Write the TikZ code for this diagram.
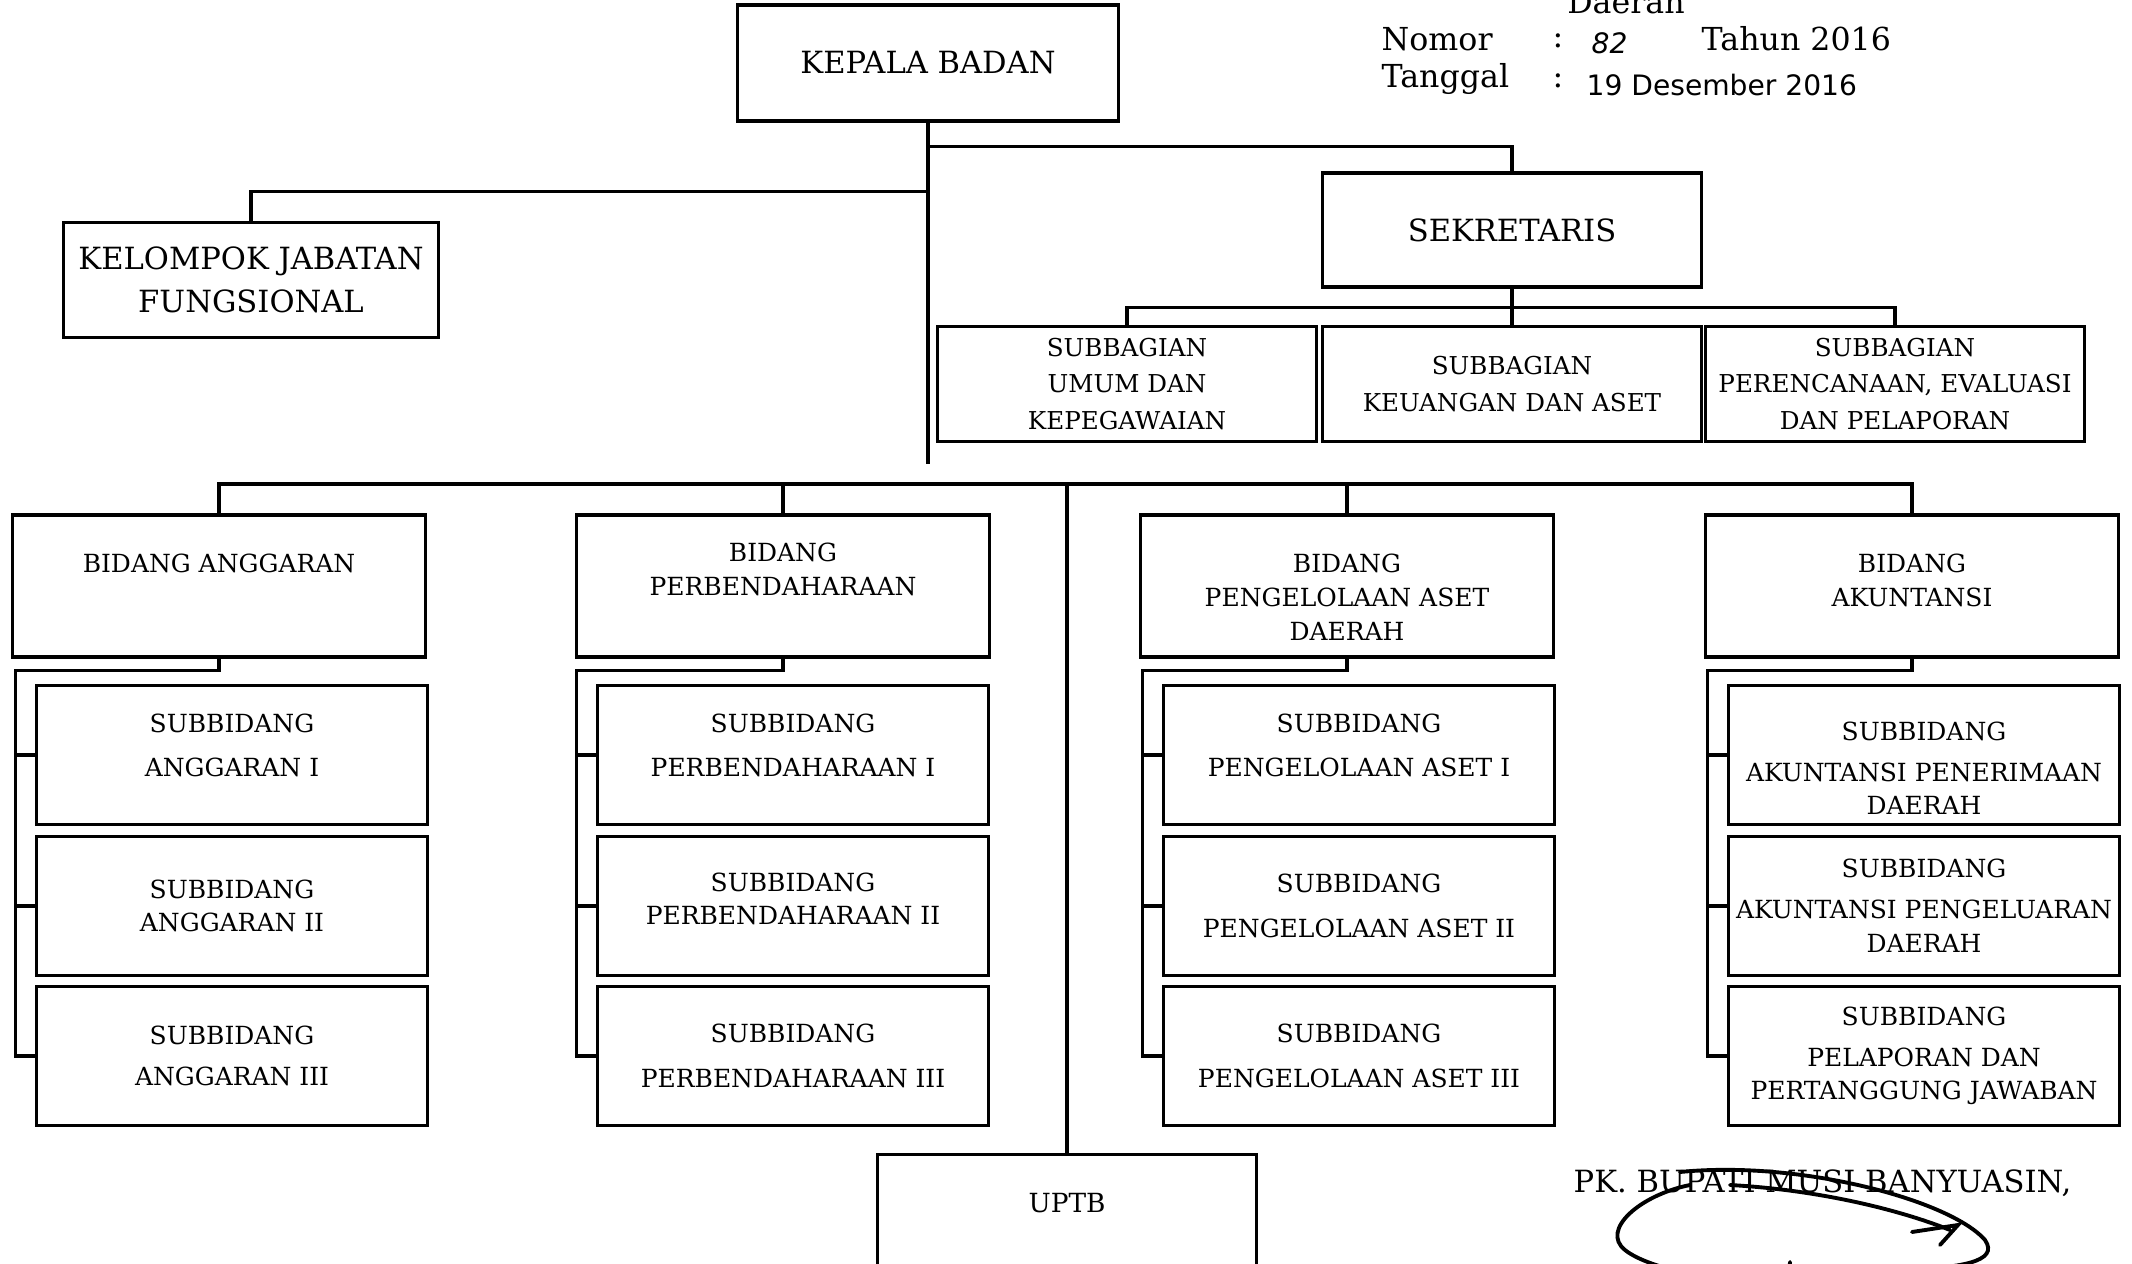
\documentclass[tikz,border=0pt]{standalone}
\usepackage{fontspec}
\setmainfont{DejaVu Serif}
\newfontfamily\handfont{DejaVu Sans}
\usetikzlibrary{positioning}
\newcommand{\bigtxt}{\fontsize{8.7}{12.3}\selectfont}
\newcommand{\smalltxt}{\fontsize{7.1}{9.6}\selectfont}
\newcommand{\bagtxt}{\fontsize{7}{10.4}\selectfont}
\tikzstyle{block} = [rectangle, draw, line width=0.9pt, align=center, inner sep=1pt, font=\bigtxt]
\tikzstyle{bagblock} = [block, font=\bagtxt, minimum width=3.78cm, minimum height=1.15cm]
\tikzstyle{bidblock} = [block, minimum width=4.13cm, minimum height=1.42cm]
\tikzstyle{subblock} = [block, font=\smalltxt, minimum width=3.9cm, minimum height=1.39cm]
\tikzstyle{bidtext} = [font=\smalltxt, align=center, inner sep=0pt]
\tikzstyle{caption} = [font=\fontsize{9}{11}\selectfont, inner sep=0pt]
\tikzstyle{hand} = [font=\handfont\fontsize{8}{10}\selectfont, inner sep=0pt]
\tikzstyle{line} = [draw, line width=0.9pt]
\tikzstyle{sign} = [draw, line width=1.1pt, line cap=round]

\begin{document}
\begin{tikzpicture}[x=0.01cm, y=-0.01cm]
\useasboundingbox (0,0) rectangle (2132,1264);
\clip (0,0) rectangle (2132,1264);

% header
\node [caption] at (1626,2) (daerah) {Daerah};
\node [caption, anchor=west] at (1381,39) (nomor) {Nomor};
\node [caption] at (1558,41) (colona) {:};
\node [hand, anchor=west] at (1591,43) (nomorval) {\itshape 82};
\node [caption, anchor=west] at (1701,39) (tahun) {Tahun 2016};
\node [caption, anchor=west] at (1381,79) (tanggal) {Tanggal};
\node [caption] at (1558,81) (colonb) {:};
\node [hand, anchor=west] at (1586,85) (tglval) {19 Desember 2016};

% top level
\node [block, minimum width=3.8cm, minimum height=1.16cm] at (928,63) (kepala) {KEPALA BADAN};
\node [block, minimum width=3.75cm, minimum height=1.15cm] at (251,280) (kjf) {KELOMPOK JABATAN\\FUNGSIONAL};
\node [block, minimum width=3.78cm, minimum height=1.14cm] at (1512,230) (sek) {SEKRETARIS};

\coordinate (sekjoint) at ([yshift=-0.24cm]kepala.south);
\coordinate (kjfjoint) at ([yshift=-0.69cm]kepala.south);
\coordinate (kepalaend) at ([yshift=-3.41cm]kepala.south);
\path [line] (kepala.south) -- (kepalaend);
\path [line] (sekjoint) -| (sek.north);
\path [line] (kjfjoint) -| (kjf.north);

% sekretariat
\node [bagblock] at (1127,384) (umum) {SUBBAGIAN\\UMUM DAN\\KEPEGAWAIAN};
\node [bagblock] at (1512,384) (keu) {SUBBAGIAN\\KEUANGAN DAN ASET};
\node [bagblock] at (1895,384) (lapor) {SUBBAGIAN\\PERENCANAAN, EVALUASI\\DAN PELAPORAN};
\coordinate (bagjoint) at ([yshift=-0.19cm]sek.south);
\path [line] (sek.south) -- (keu.north);
\path [line] (umum.north) |- (bagjoint) -| (lapor.north);

% bidang
\node [bidblock] at (219,586) (ang) {};
\node [bidblock] at (783,586) (perb) {};
\node [bidblock] at (1347,586) (aset) {};
\node [bidblock] at (1912,586) (akun) {};
\node [bidtext, anchor=north] at ([yshift=-0.4cm]ang.north) (angtxt) {BIDANG ANGGARAN};
\node [bidtext, anchor=north] at ([yshift=-0.29cm]perb.north) (perbtxt) {BIDANG\\PERBENDAHARAAN};
\node [bidtext, anchor=north] at ([yshift=-0.4cm]aset.north) (asettxt) {BIDANG\\PENGELOLAAN ASET\\DAERAH};
\node [bidtext, anchor=north] at ([yshift=-0.4cm]akun.north) (akuntxt) {BIDANG\\AKUNTANSI};

\node [block, minimum width=3.78cm, minimum height=1.5cm, anchor=north] at (1067,1153) (uptb) {};
\node [bidtext, font=\fontsize{7.5}{9}\selectfont] at ([yshift=-0.5cm]uptb.north) (uptbtxt) {UPTB};

\coordinate (busR) at (1912,484);
\path [line] (ang.north) |- (busR) -- (akun.north);
\path [line] (perb.north |- busR) -- (perb.north);
\path [line] (aset.north |- busR) -- (aset.north);
\path [line] (uptb.north |- busR) -- (uptb.north);

% subbidang
\node [subblock] at (232,755) (ang1) {SUBBIDANG\\[3pt]ANGGARAN I\\[-4pt]\mbox{}};
\node [subblock] at (232,906) (ang2) {SUBBIDANG\\ANGGARAN II};
\node [subblock] at (232,1056) (ang3) {SUBBIDANG\\[2pt]ANGGARAN III};
\node [subblock] at (793,755) (perb1) {SUBBIDANG\\[3pt]PERBENDAHARAAN I\\[-4pt]\mbox{}};
\node [subblock] at (793,906) (perb2) {SUBBIDANG\\PERBENDAHARAAN II\\[-5.5pt]\mbox{}};
\node [subblock] at (793,1056) (perb3) {SUBBIDANG\\[3pt]PERBENDAHARAAN III};
\node [subblock] at (1359,755) (aset1) {SUBBIDANG\\[3pt]PENGELOLAAN ASET I\\[-4pt]\mbox{}};
\node [subblock] at (1359,906) (aset2) {SUBBIDANG\\[3pt]PENGELOLAAN ASET II};
\node [subblock] at (1359,1056) (aset3) {SUBBIDANG\\[3pt]PENGELOLAAN ASET III};
\node [subblock] at (1924,755) (akun1) {\mbox{}\\[3.3pt]SUBBIDANG\\[2pt]AKUNTANSI PENERIMAAN\\DAERAH};
\node [subblock] at (1924,906) (akun2) {SUBBIDANG\\[2pt]AKUNTANSI PENGELUARAN\\DAERAH};
\node [subblock] at (1924,1056) (akun3) {SUBBIDANG\\[2pt]PELAPORAN DAN\\PERTANGGUNG JAWABAN};

\path [line] (ang.south) -- ++(0,12) -| ([xshift=-0.2cm]ang3.west) -- (ang3.west);
\path [line] ([xshift=-0.2cm]ang1.west) -- (ang1.west);
\path [line] ([xshift=-0.2cm]ang2.west) -- (ang2.west);
\path [line] (perb.south) -- ++(0,12) -| ([xshift=-0.2cm]perb3.west) -- (perb3.west);
\path [line] ([xshift=-0.2cm]perb1.west) -- (perb1.west);
\path [line] ([xshift=-0.2cm]perb2.west) -- (perb2.west);
\path [line] (aset.south) -- ++(0,12) -| ([xshift=-0.2cm]aset3.west) -- (aset3.west);
\path [line] ([xshift=-0.2cm]aset1.west) -- (aset1.west);
\path [line] ([xshift=-0.2cm]aset2.west) -- (aset2.west);
\path [line] (akun.south) -- ++(0,12) -| ([xshift=-0.2cm]akun3.west) -- (akun3.west);
\path [line] ([xshift=-0.2cm]akun1.west) -- (akun1.west);
\path [line] ([xshift=-0.2cm]akun2.west) -- (akun2.west);

% signature
\node [caption, font=\bigtxt, anchor=west] at (1573,1183) (pk) {PK. BUPATI MUSI BANYUASIN,};
\path [sign] (1690,1185) .. controls (1640,1195) and (1600,1230) .. (1625,1250) .. controls (1650,1270) and (1720,1280) .. (1760,1290);
\path [sign] (1680,1172) .. controls (1800,1160) and (1950,1200) .. (1985,1240) .. controls (2000,1262) and (1960,1268) .. (1900,1270);
\path [sign] (1730,1185) .. controls (1820,1190) and (1900,1210) .. (1950,1230);
\path [sign] (1912,1232) -- (1958,1225) -- (1940,1245);
\path [sign] (1722,1281) .. controls (1800,1268) and (1880,1266) .. (1923,1271);
\path [sign] (1790,1262) -- (1788,1290);
\end{tikzpicture}
\end{document}
